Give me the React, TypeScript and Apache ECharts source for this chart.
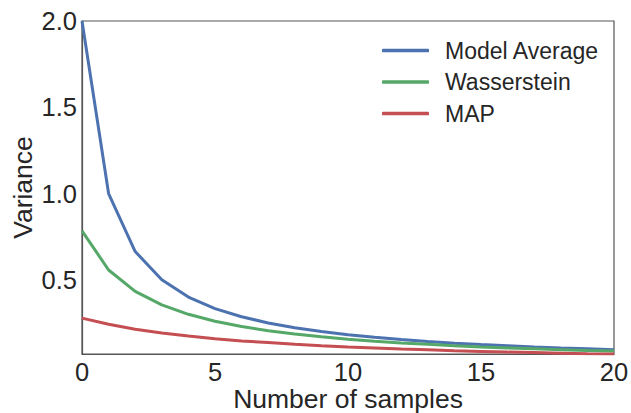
import React, { useEffect, useRef } from "react";
import * as echarts from "echarts";

const samples = [0,1,2,3,4,5,6,7,8,9,10,11,12,13,14,15,16,17,18,19,20];
const modelAverage = [2.0,1.0,0.664,0.5,0.4,0.333,0.286,0.25,0.222,0.2,0.182,0.167,0.154,0.143,0.133,0.125,0.118,0.111,0.105,0.1,0.095];
const wasserstein = [0.784,0.557,0.433,0.355,0.3,0.26,0.229,0.205,0.186,0.17,0.156,0.144,0.134,0.126,0.118,0.111,0.105,0.1,0.095,0.09,0.087];
const mapEst = [0.278,0.242,0.214,0.192,0.174,0.159,0.146,0.136,0.126,0.118,0.111,0.105,0.099,0.094,0.089,0.085,0.081,0.078,0.075,0.072,0.07];
const yTicks = [0.5, 1.0, 1.5, 2.0];
const xTicks = [0, 5, 10, 15, 20];

const seriesNames = ["Model Average", "Wasserstein", "MAP"];
const colors = ["#4C72B0", "#55A868", "#C44E52"];

export default function App() {
  const ref = useRef<HTMLDivElement>(null);
  useEffect(() => {
    if (!ref.current) return;
    const chart = echarts.init(ref.current, null, { renderer: "svg" });
    const font = "'Liberation Sans', Arial, sans-serif";
    const textColor = "#262626";
    const data = [modelAverage, wasserstein, mapEst];
    chart.setOption({
      animation: false,
      backgroundColor: "#ffffff",
      grid: {
        left: 82, right: 17, top: 21, bottom: 59,
        outerBoundsMode: "none",
        containLabel: false,
        show: true, borderColor: "#555555", borderWidth: 1.2, backgroundColor: "transparent",
      },
      legend: {
        orient: "vertical",
        left: 382, top: 39,
        padding: 0,
        itemWidth: 47, itemHeight: 3.5,
        itemGap: 8.5,
        icon: "roundRect",
        data: seriesNames,
        textStyle: { fontFamily: font, fontSize: 23, color: textColor, padding: [0, 0, 0, 11] },
      },
      xAxis: {
        type: "value", min: 0, max: 20, interval: 5,
        name: "Number of samples", nameLocation: "middle", nameGap: 32,
        nameMoveOverlap: false,
        nameTextStyle: { fontFamily: font, fontSize: 26.5, color: textColor, lineHeight: 26 },
        axisLine: { show: true, lineStyle: { color: "#555555", width: 1.2 } },
        axisTick: { show: false },
        splitLine: { show: false },
        axisLabel: { fontFamily: font, fontSize: 25.5, color: textColor, margin: 5, lineHeight: 25, customValues: xTicks },
      },
      yAxis: {
        type: "value", min: 0.07, max: 2.0,
        name: "Variance", nameLocation: "middle", nameGap: 46,
        nameMoveOverlap: false,
        nameTextStyle: { fontFamily: font, fontSize: 26.5, color: textColor },
        axisLine: { show: true, lineStyle: { color: "#555555", width: 1.2 } },
        axisTick: { show: false },
        splitLine: { show: false },
        axisLabel: {
          fontFamily: font, fontSize: 25.5, color: textColor, margin: 5,
          customValues: yTicks,
          formatter: (v: number) => v.toFixed(1),
        },
      },
      series: seriesNames.map((name, i) => ({
        name, type: "line", symbol: "none", smooth: false,
        data: samples.map((x, j) => [x, data[i][j]]),
        lineStyle: { color: colors[i], width: 3 },
        itemStyle: { color: colors[i] },
      })),
    });
    return () => chart.dispose();
  }, []);
  return <div ref={ref} style={{ position: "fixed", left: 0, top: 0, width: 631, height: 413 }} />;
}
